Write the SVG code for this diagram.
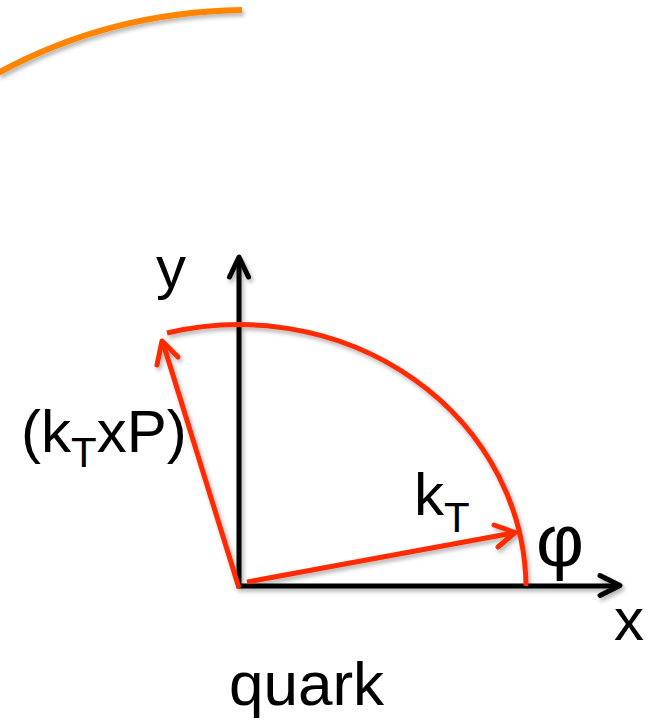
<svg xmlns="http://www.w3.org/2000/svg" width="658" height="721" viewBox="0 0 658 721">
<style>
.t{font-family:"Liberation Sans",Arial,Helvetica,sans-serif;font-size:60px;fill:#000}
.sub{font-size:42px}
.ax{stroke:#000;stroke-width:5;fill:none;stroke-linecap:butt}
.rd{stroke:#FF2A00;stroke-width:5;fill:none}
.hd{stroke-linecap:round;stroke-linejoin:round}
.or{stroke:#FF8400;stroke-width:6;fill:none}
</style>
<defs>
<filter id="sh" x="-10%" y="-10%" width="130%" height="130%">
<feDropShadow dx="2" dy="3" stdDeviation="2" flood-color="#000" flood-opacity="0.3"/>
</filter>
</defs>
<rect width="658" height="721" fill="#fff"/>
<g id="connectors" filter="url(#sh)">
<path id="orange-arc" class="or" d="M-2,73 Q110,12 242,10"/>
<line class="ax" x1="239" y1="588" x2="239" y2="258"/>
<polyline class="ax hd" points="229.5,277 239,257 248.5,277"/>
<line class="ax" x1="237" y1="586" x2="619" y2="586"/>
<polyline class="ax hd" points="600,575.5 620,585.5 600,595.5"/>
<path class="rd" d="M167,333 A287,264 0 0 1 526,586"/>
<line class="rd" x1="247" y1="582" x2="513" y2="533"/>
<polyline class="rd hd" points="494,525 515,532.5 498,547"/>
<line class="rd" x1="239" y1="588" x2="163" y2="343"/>
<polyline class="rd hd" points="157,365 162,341 178,357"/>
</g>
<g id="label-y"><text class="t" x="156" y="288">y</text></g>
<g id="label-x"><text class="t" x="614" y="640">x</text></g>
<g id="label-kTxP"><text class="t" x="21" y="452">(k<tspan class="sub" dy="15">T</tspan><tspan dy="-15">xP)</tspan></text></g>
<g id="label-kT"><text class="t" x="414" y="515">k<tspan class="sub" dy="17">T</tspan></text></g>
<g id="label-phi"><text class="t" x="536" y="566" style="font-size:74px">φ</text></g>
<g id="label-quark"><text class="t" x="229" y="705" style="font-size:62px">quark</text></g>
</svg>
